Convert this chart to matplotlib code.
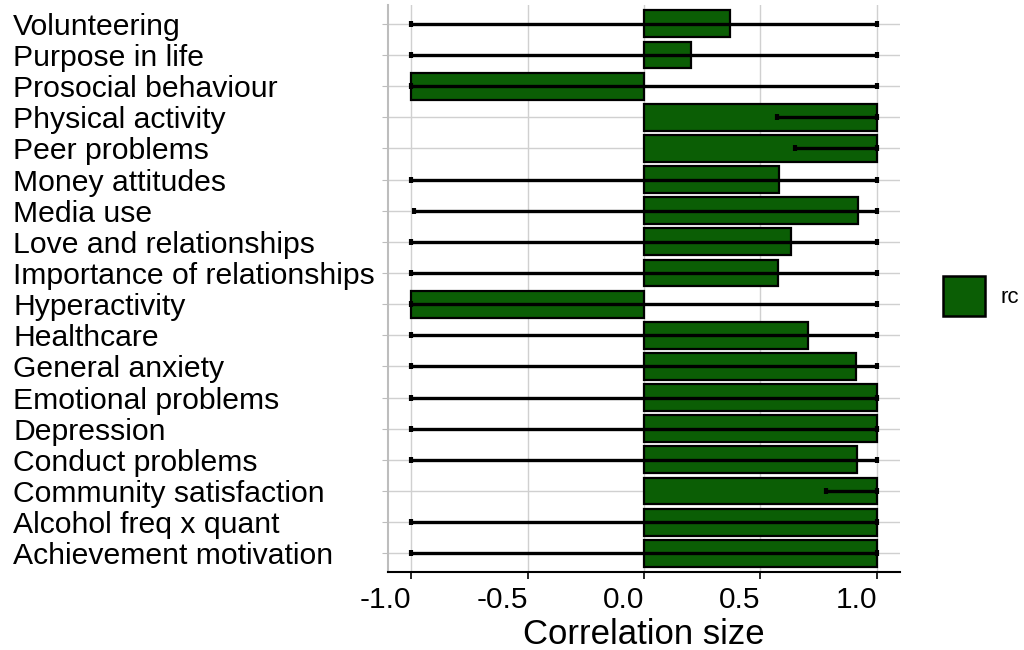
import matplotlib.pyplot as plt
import matplotlib.patches as mpatches
import numpy as np

plt.rcParams['font.family'] = ['Liberation Sans', 'DejaVu Sans']

# rows listed top to bottom
labels = ["Volunteering", "Purpose in life", "Prosocial behaviour", "Physical activity",
          "Peer problems", "Money attitudes", "Media use", "Love and relationships",
          "Importance of relationships", "Hyperactivity", "Healthcare", "General anxiety",
          "Emotional problems", "Depression", "Conduct problems", "Community satisfaction",
          "Alcohol freq x quant", "Achievement motivation"]
rc = [0.37, 0.20, -1.0, 1.0, 1.0, 0.58, 0.92, 0.63, 0.575, -1.0,
      0.705, 0.91, 1.0, 1.0, 0.915, 1.0, 1.0, 1.0]
ci_low = [-1.0, -1.0, -1.0, 0.57, 0.65, -1.0, -0.99, -1.0, -1.0, -1.0,
          -1.0, -1.0, -1.0, -1.0, -1.0, 0.78, -1.0, -1.0]
ci_high = [1.0] * 18
xticks = [-1.0, -0.5, 0.0, 0.5, 1.0]

green = '#0b5e05'
y = np.arange(len(labels))[::-1]

fig = plt.figure(figsize=(10.24, 6.5), dpi=100)
ax = fig.add_axes([0.379, 0.12, 0.500, 0.872])

ax.barh(y, rc, height=0.86, color=green, edgecolor='black', linewidth=1.6, zorder=2)
rc_a = np.array(rc)
xerr = [rc_a - np.array(ci_low), np.array(ci_high) - rc_a]
ax.errorbar(rc, y, xerr=xerr, fmt='none', ecolor='black', elinewidth=2.4,
            capsize=2, capthick=3, zorder=3)

ax.set_xlim(-1.1, 1.1)
ax.set_ylim(-0.6, len(labels) - 0.4)
ax.set_yticks(y)
ax.set_yticklabels(labels, fontsize=21.7)
for lbl in ax.get_yticklabels():
    lbl.set_horizontalalignment('left')
ax.set_xticks(xticks)
ax.set_xticklabels([f"{t:.1f}" for t in xticks], fontsize=21.5)
for lbl in ax.get_xticklabels():
    lbl.set_horizontalalignment('right')
ax.set_xlabel("Correlation size", fontsize=25, labelpad=3)

ax.grid(True, color='#d0d0d0', linewidth=1.0, zorder=0)
ax.set_axisbelow(True)
for s in ['top', 'right']:
    ax.spines[s].set_visible(False)
ax.spines['left'].set_color('#bdbdbd')
ax.spines['left'].set_linewidth(1.5)
ax.spines['bottom'].set_color('black')
ax.spines['bottom'].set_linewidth(1.5)
ax.tick_params(axis='y', length=4, color='#bdbdbd', pad=266, labelcolor='black')
ax.tick_params(axis='x', length=5, width=1.2, pad=5)

handle = mpatches.Patch(facecolor=green, edgecolor='black', linewidth=1.8, label='rc')
fig.legend(handles=[handle], loc='center left', bbox_to_anchor=(0.921, 0.545),
           frameon=False, fontsize=16, handlelength=1.9, handleheight=2.4,
           handletextpad=0.7, borderpad=0, borderaxespad=0)

fig.savefig("out.png", dpi=100)
